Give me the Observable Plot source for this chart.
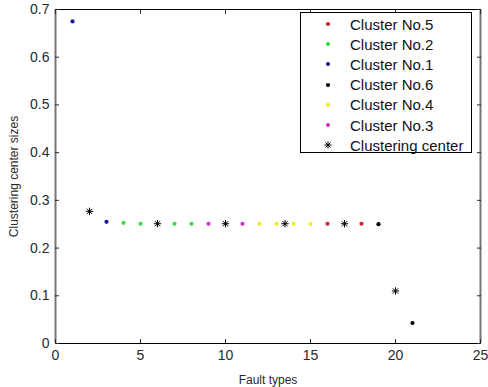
<!DOCTYPE html>
<html>
<head>
<meta charset="utf-8">
<script src="https://cdn.jsdelivr.net/npm/d3@7"></script>
<script src="https://cdn.jsdelivr.net/npm/@observablehq/plot@0.6"></script>
<style>
  html, body { margin: 0; padding: 0; background: #fff; }
  #wrap { position: relative; width: 488px; height: 387px; font-family: "Liberation Sans", Arial, sans-serif; }
  #legend { position: absolute; left: 300px; top: 12px; width: 170px; height: 138px; border: 1px solid #000; background: #fff; box-sizing: content-box; padding-top: 1px; }
  .row { display: flex; align-items: center; height: 20.2px; font-size: 15px; color: #111; }
  .row svg { margin-left: 21px; margin-right: 16px; }
</style>
</head>
<body>
<div id="wrap"></div>
<script>
// ---- data ----
const clusterNames = ["Cluster No.1", "Cluster No.2", "Cluster No.3", "Cluster No.4", "Cluster No.5", "Cluster No.6"];
const clusterColors = ["#1a1aa0", "#33dd44", "#cc33cc", "#eeee22", "#cc2233", "#000000"];
const pointFault = [1, 3, 4, 5, 7, 8, 9, 11, 12, 13, 14, 15, 16, 18, 19, 21];
const pointValue = [0.675, 0.255, 0.253, 0.251, 0.251, 0.251, 0.251, 0.251, 0.251, 0.251, 0.251, 0.251, 0.251, 0.251, 0.250, 0.043];
const pointCluster = ["Cluster No.1", "Cluster No.1", "Cluster No.2", "Cluster No.2", "Cluster No.2", "Cluster No.2",
  "Cluster No.3", "Cluster No.3", "Cluster No.4", "Cluster No.4", "Cluster No.4", "Cluster No.4",
  "Cluster No.5", "Cluster No.5", "Cluster No.6", "Cluster No.6"];
const centerFault = [2, 6, 10, 13.5, 17, 20];
const centerValue = [0.277, 0.251, 0.251, 0.251, 0.251, 0.110];
const xTicks = [0, 5, 10, 15, 20, 25];
const yTicks = [0, 0.1, 0.2, 0.3, 0.4, 0.5, 0.6, 0.7];
const legendOrder = ["Cluster No.5", "Cluster No.2", "Cluster No.1", "Cluster No.6", "Cluster No.4", "Cluster No.3", "Clustering center"];

const points = pointFault.map((f, i) => ({fault: f, value: pointValue[i], cluster: pointCluster[i]}));
const centers = centerFault.map((f, i) => ({fault: f, value: centerValue[i]}));

const chart = Plot.plot({
  width: 488,
  height: 387,
  marginLeft: 55,
  marginRight: 8,
  marginTop: 9,
  marginBottom: 44,
  style: {fontFamily: "Liberation Sans, Arial, sans-serif", fontSize: "14px", color: "#2a2a2a", background: "#fff"},
  x: {domain: [0, 25]},
  y: {domain: [0, 0.7]},
  color: {domain: clusterNames, range: clusterColors},
  marks: [
    Plot.ruleX([0, 25], {stroke: "#777", strokeWidth: 2}),
    Plot.ruleY([0, 0.7], {stroke: "#000", strokeWidth: 1}),
    Plot.axisX(xTicks, {anchor: "bottom", tickSize: -4, tickPadding: 11, label: "Fault types", labelAnchor: "center", labelArrow: "none", labelOffset: 40, fontSize: 14, tickFormat: d => String(d)}),
    Plot.axisX(xTicks, {anchor: "top", tickSize: -4, tickFormat: () => "", label: null}),
    Plot.axisY(yTicks, {anchor: "left", tickSize: -4, tickPadding: 10, label: "Clustering center sizes", labelAnchor: "center", labelArrow: "none", labelOffset: 46, tickFormat: d => d === 0 ? "0" : d3.format(".1f")(d)}),
    Plot.axisY(yTicks, {anchor: "right", tickSize: -4, tickFormat: () => "", label: null}),
    Plot.dot(points, {x: "fault", y: "value", fill: "cluster", r: 2.1}),
    Plot.dot(centers, {x: "fault", y: "value", symbol: "plus", stroke: "#000", r: 2.5, strokeWidth: 1}),
    Plot.dot(centers, {x: "fault", y: "value", symbol: "times", stroke: "#000", r: 2.5, strokeWidth: 1})
  ]
});
// axis label font sizes
d3.select(chart).selectAll("[aria-label='x-axis label'] text, [aria-label='y-axis label'] text").style("font-size", "12px");

const wrap = document.getElementById("wrap");
wrap.appendChild(chart);

// legend
const legend = document.createElement("div");
legend.id = "legend";
legendOrder.forEach(name => {
  const row = document.createElement("div");
  row.className = "row";
  const svg = d3.create("svg").attr("width", 12).attr("height", 12);
  if (name === "Clustering center") {
    svg.append("path").attr("d", "M6,2.5V9.5M2.5,6H9.5M3.5,3.5L8.5,8.5M8.5,3.5L3.5,8.5").attr("stroke", "#000").attr("stroke-width", 1);
  } else {
    svg.append("circle").attr("cx", 6).attr("cy", 6).attr("r", 2.1).attr("fill", clusterColors[clusterNames.indexOf(name)]);
  }
  row.appendChild(svg.node());
  const span = document.createElement("span");
  span.textContent = name;
  row.appendChild(span);
  legend.appendChild(row);
});
wrap.appendChild(legend);
</script>
</body>
</html>
